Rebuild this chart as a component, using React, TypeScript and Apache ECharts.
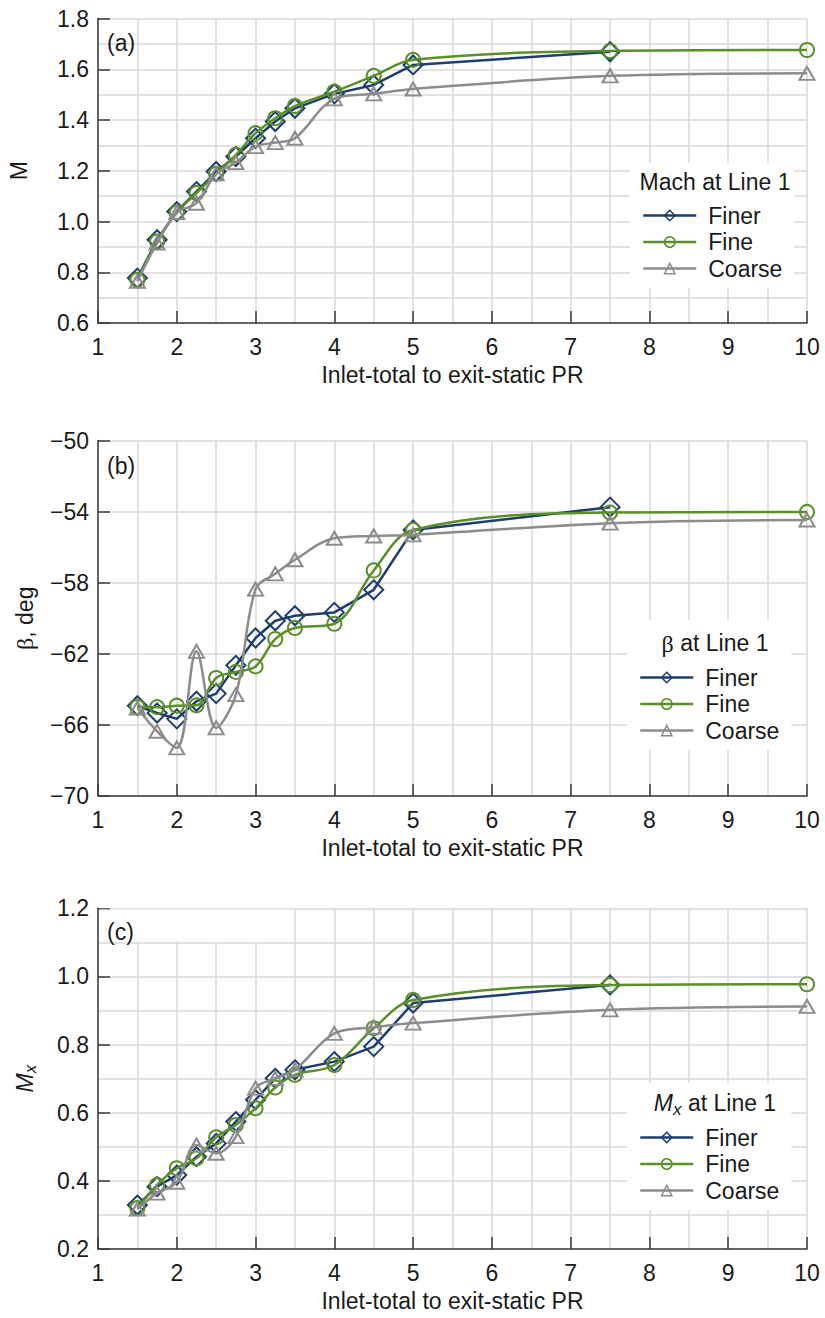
import React, { useEffect, useRef } from "react";
import * as echarts from "echarts";

// Inlet-total to exit-static pressure ratio sampled for all three meshes
const prValues = [1.5, 1.75, 2, 2.25, 2.5, 2.75, 3, 3.25, 3.5, 4, 4.5, 5, 7.5, 10];

// (a) Mach number at Line 1
const machFiner = [0.777, 0.928, 1.039, 1.118, 1.197, 1.256, 1.328, 1.394, 1.446, 1.503, 1.538, 1.617, 1.669];
const machFine = [0.770, 0.921, 1.035, 1.112, 1.188, 1.263, 1.348, 1.407, 1.455, 1.512, 1.574, 1.637, 1.672, 1.676];
const machCoarse = [0.764, 0.915, 1.035, 1.072, 1.188, 1.232, 1.295, 1.311, 1.328, 1.483, 1.503, 1.522, 1.574, 1.584];

// (b) Flow angle beta at Line 1, deg
const betaFiner = [-64.92, -65.33, -65.66, -64.67, -64.24, -62.65, -61.11, -60.14, -59.86, -59.67, -58.4, -55.03, -53.75];
const betaFine = [-64.99, -65.0, -64.92, -64.9, -63.36, -63.02, -62.71, -61.17, -60.55, -60.31, -57.31, -55.03, -54.05, -54.02];
const betaCoarse = [-65.05, -66.36, -67.29, -61.86, -66.17, -64.3, -58.36, -57.5, -56.71, -55.5, -55.37, -55.31, -54.65, -54.47];

// (c) Axial Mach number at Line 1
const mxFiner = [0.329, 0.383, 0.417, 0.471, 0.51, 0.574, 0.638, 0.701, 0.726, 0.75, 0.794, 0.922, 0.975];
const mxFine = [0.32, 0.388, 0.437, 0.466, 0.528, 0.564, 0.613, 0.674, 0.711, 0.74, 0.848, 0.931, 0.975, 0.977];
const mxCoarse = [0.317, 0.364, 0.396, 0.505, 0.481, 0.53, 0.672, 0.701, 0.726, 0.833, 0.851, 0.863, 0.902, 0.912];

// Axis ticks
const xTicks = [1, 2, 3, 4, 5, 6, 7, 8, 9, 10];
const betaTicks = [-70, -66, -62, -58, -54, -50];

const FONT = "'Liberation Sans', Arial, 'DejaVu Sans', sans-serif";
const SERIF = "'Liberation Serif', 'DejaVu Serif', serif";
const FS = 23;
const INK = "#1a1a1a";
const AXIS = "#3a3a3a";
const GRID = "#d9d9d9";
const FINER = "#1f3d6e";
const FINE = "#5a8f2a";
const COARSE = "#8c8c8c";

const W = 825;
const H = 1318;

const pairs = (vals: number[]) => vals.map((v, i) => [prValues[i], v]);
const minus = (s: string) => s.replace("-", "\u2212");

const panelTops = [18.5, 440.5, 908.3];
const panelHeights = [304.5, 355.5, 340.7];

export default function App() {
  const ref = useRef<HTMLDivElement>(null);

  useEffect(() => {
    if (!ref.current) return;
    const chart = echarts.init(ref.current, null, { renderer: "svg", width: W, height: H });

    const gridLine = { show: true, lineStyle: { color: GRID, width: 1.5 } };
    const axisLine = { show: true, onZero: false, lineStyle: { color: AXIS, width: 1.5 } };
    const axisTick = { show: true, inside: true, length: 12, lineStyle: { color: AXIS, width: 1.5 } };
    const labelStyle = { fontSize: FS, color: INK, fontFamily: FONT };

    const grids = panelTops.map((top, i) => ({
      left: 98,
      width: 709,
      top,
      height: panelHeights[i],
      containLabel: false,
      outerBoundsMode: "none",
    }));

    const xAxes = panelTops.map((_, i) => ({
      type: "value",
      gridIndex: i,
      min: xTicks[0],
      max: xTicks[xTicks.length - 1],
      interval: 1,
      name: "Inlet-total to exit-static PR",
      nameLocation: "middle",
      nameGap: 40,
      nameTextStyle: { ...labelStyle },
      axisLine,
      axisTick,
      axisLabel: { ...labelStyle, margin: 12 },
      splitLine: gridLine,
      minorTick: { show: false, splitNumber: 2 },
      minorSplitLine: gridLine,
    }));

    const yCommon = {
      type: "value",
      nameLocation: "middle",
      nameRotate: 90,
      axisLine,
      axisTick,
      splitLine: gridLine,
    };

    const yAxes = [
      {
        ...yCommon,
        gridIndex: 0,
        min: 0.6,
        max: 1.8,
        interval: 0.2,
        name: "M",
        nameGap: 68,
        nameTextStyle: { ...labelStyle },
        axisLabel: { ...labelStyle, margin: 9, formatter: (v: number) => v.toFixed(1) },
        minorTick: { show: false, splitNumber: 2 },
        minorSplitLine: gridLine,
      },
      {
        ...yCommon,
        gridIndex: 1,
        min: -70,
        max: -50,
        interval: 2,
        name: "{b|\u03b2}, deg",
        nameGap: 61,
        nameTextStyle: { ...labelStyle, rich: { b: { fontSize: FS + 1, fontFamily: SERIF, color: INK } } },
        axisTick: { ...axisTick, customValues: betaTicks },
        axisLabel: {
          ...labelStyle,
          margin: 9,
          customValues: betaTicks,
          formatter: (v: number) => (betaTicks.includes(v) ? minus(String(v)) : ""),
        },
      },
      {
        ...yCommon,
        gridIndex: 2,
        min: 0.2,
        max: 1.2,
        interval: 0.2,
        name: "{i|M}{sub|x}",
        nameGap: 59,
        nameTextStyle: {
          ...labelStyle,
          rich: {
            i: { fontSize: FS, fontStyle: "italic", fontFamily: FONT, color: INK, verticalAlign: "top", lineHeight: FS },
            sub: { fontSize: 17, fontStyle: "italic", fontFamily: FONT, color: INK, verticalAlign: "top", padding: [9, 0, 0, 0] },
          },
        },
        axisLabel: { ...labelStyle, margin: 9, formatter: (v: number) => v.toFixed(1) },
        minorTick: { show: false, splitNumber: 2 },
        minorSplitLine: gridLine,
      },
    ];

    const mkSeries = (
      name: string,
      color: string,
      symbol: string,
      symbolSize: number | number[],
      values: number[],
      idx: number,
      smooth: boolean | number,
      z: number
    ) => ({
      type: "line",
      name,
      xAxisIndex: idx,
      yAxisIndex: idx,
      data: pairs(values),
      symbol,
      symbolSize,
      smooth,
      z,
      showAllSymbol: true,
      lineStyle: { color, width: 2.5 },
      itemStyle: { color: "rgba(255,255,255,0)", borderColor: color, borderWidth: 2 },
      emphasis: { disabled: true },
    });

    const panelData = [
      [machFiner, machFine, machCoarse],
      [betaFiner, betaFine, betaCoarse],
      [mxFiner, mxFine, mxCoarse],
    ];

    const series: any[] = [];
    panelData.forEach(([finer, fine, coarse], i) => {
      series.push(mkSeries("Finer", FINER, "diamond", 19, finer, i, false, 2));
      series.push(mkSeries("Fine", FINE, "circle", 14, fine, i, 0.35, 3));
      series.push(mkSeries("Coarse", COARSE, "triangle", [15, 13], coarse, i, 0.35, 4));
    });

    const legendItems = [
      { name: "Finer", color: FINER },
      { name: "Fine", color: FINE },
      { name: "Coarse", color: COARSE },
    ];

    // legend boxes: position, top padding that leaves room for the title, title centre y
    const legendBoxes = [
      { left: 630, top: 163, padTop: 41, titleY: 182 },
      { left: 627, top: 620, padTop: 46, titleY: 643 },
      { left: 627, top: 1083, padTop: 43, titleY: 1103 },
    ];

    const legends = legendBoxes.map((b) => ({
      orient: "vertical",
      left: b.left,
      top: b.top,
      padding: [b.padTop, 12, 8, 12],
      backgroundColor: "#ffffff",
      itemWidth: 53,
      itemHeight: 13,
      itemGap: 3.5,
      selectedMode: false,
      z: 6,
      textStyle: { fontSize: FS, color: INK, fontFamily: FONT, lineHeight: FS, padding: [0, 0, 0, 7] },
      data: legendItems.map((it) => ({
        name: it.name,
        itemStyle: { color: "rgba(255,255,255,0)", borderColor: it.color, borderWidth: 1.5 },
        lineStyle: { color: it.color, width: 2.5 },
      })),
    }));

    const titleRich = {
      i: { fontSize: FS, fontStyle: "italic", fontFamily: FONT, fill: INK, verticalAlign: "top", lineHeight: FS },
      sub: { fontSize: 17, fontStyle: "italic", fontFamily: FONT, fill: INK, verticalAlign: "top", padding: [9, 0, 0, 0] },
      n: { fontSize: FS, fontFamily: FONT, fill: INK, verticalAlign: "top", lineHeight: FS },
      b: { fontSize: FS + 1, fontFamily: SERIF, fill: INK, verticalAlign: "top", lineHeight: FS },
    };

    const titles = ["{n|Mach at Line 1}", "{b|\u03b2}{n| at Line 1}", "{i|M}{sub|x}{n| at Line 1}"];

    const graphics: any[] = [
      // white backing behind the "(c)" tag
      {
        type: "rect",
        z: 1,
        shape: { x: 99, y: 909.5, width: 191, height: 32 },
        style: { fill: "#ffffff" },
        silent: true,
      },
    ];
    ["(a)", "(b)", "(c)"].forEach((t, i) => {
      const cy = [42.5, 466, 932][i];
      graphics.push({
        type: "text",
        z: 10,
        x: 107,
        y: cy,
        style: { text: t, fontSize: FS, fontFamily: FONT, fill: INK, verticalAlign: "middle", align: "left" },
        silent: true,
      });
    });
    legendBoxes.forEach((b, i) => {
      graphics.push({
        type: "text",
        z: 10,
        x: 715,
        y: b.titleY - 11.5,
        style: { text: titles[i], rich: titleRich, fontSize: FS, fontFamily: FONT, fill: INK, align: "center", verticalAlign: "top" },
        silent: true,
      });
    });

    chart.setOption({
      animation: false,
      backgroundColor: "#ffffff",
      textStyle: { fontFamily: FONT },
      grid: grids,
      xAxis: xAxes,
      yAxis: yAxes,
      legend: legends,
      series,
      graphic: { elements: graphics },
    } as any);

    return () => chart.dispose();
  }, []);

  return (
    <div
      ref={ref}
      style={{ position: "absolute", left: 0, top: 0, width: W, height: H, background: "#fff" }}
    />
  );
}
